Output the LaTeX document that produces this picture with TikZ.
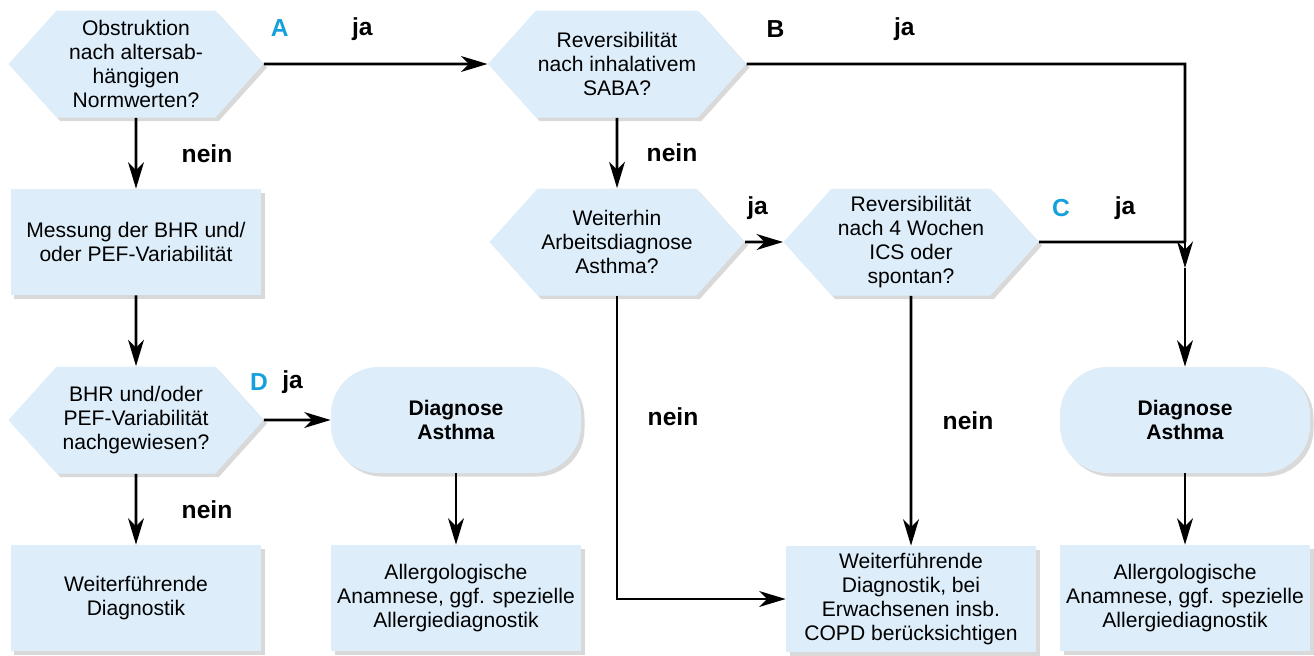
\documentclass[tikz,border=0pt]{standalone}
\usepackage{fontspec}
\setmainfont{Liberation Sans}
\usepackage{tikz}
\usetikzlibrary{positioning,shapes.symbols,shadows,arrows.meta}
\definecolor{boxblue}{RGB}{221,238,250}
\definecolor{tagblue}{RGB}{20,160,220}
\tikzset{
    hexa/.style={
        signal,
        signal from=nowhere,
        signal to=west and east,
        signal pointer angle=96,
        fill=boxblue,
        drop shadow={shadow xshift=0.07cm,shadow yshift=-0.07cm,opacity=0.3},
        align=center,
        minimum width=5.1cm,
        minimum height=2.14cm,
        inner sep=1pt,
        font=\fontsize{12}{13.7}\selectfont
    },
    box/.style={
        rectangle,
        fill=boxblue,
        drop shadow={shadow xshift=0.07cm,shadow yshift=-0.07cm,opacity=0.3},
        align=center,
        minimum width=5cm,
        minimum height=2.12cm,
        font=\fontsize{12}{13.7}\selectfont
    },
    goal/.style={
        box,
        rounded corners=0.95cm,
        font=\fontsize{12}{13.7}\selectfont\bfseries
    },
    arrow/.style={
        ->,
        >={Stealth[length=15pt,width=9pt,inset=4.5pt]},
        line width=1.5pt
    },
    line/.style={
        line width=1.5pt
    },
    answer/.style={
        font=\fontsize{14}{16}\selectfont\bfseries,
        inner sep=0pt
    },
    tag/.style={
        answer,
        text=tagblue
    }
}

\begin{document}
\begin{tikzpicture}[node distance=3.56cm and 6.4cm, on grid]
          \useasboundingbox (-2.72,1.28) rectangle (23.56,-11.82);
          \node (obstr) [hexa] {Obstruktion\\nach altersab-\\hängigen\\Normwerten?};
          \node (messung) [box, below=of obstr] {Messung der BHR und/\\oder PEF-Variabilität};
          \node (bhr) [hexa, below=of messung] {BHR und/oder\\PEF-Variabilität\\nachgewiesen?};
          \node (weiter) [box, below=of bhr] {Weiterführende\\Diagnostik};
          \node (diagA) [goal, right=of bhr] {Diagnose\\Asthma};
          \node (allergA) [box, below=of diagA] {Allergologische\\Anamnese, ggf. spezielle\\Allergiediagnostik};
          \node (saba) [hexa, right=9.62cm of obstr] {Reversibilität\\nach inhalativem\\SABA?};
          \node (arbeit) [hexa, below=of saba] {Weiterhin\\Arbeitsdiagnose\\Asthma?};
          \node (ics) [hexa, right=5.88cm of arbeit] {Reversibilität\\nach 4 Wochen\\ICS oder\\spontan?};
          \node (copd) [box, below=7.14cm of ics] {Weiterführende\\Diagnostik, bei\\Erwachsenen insb.\\COPD berücksichtigen};
          \node (diagB) [goal, below right=3.56cm and 5.48cm of ics] {Diagnose\\Asthma};
          \node (allergB) [box, below=of diagB] {Allergologische\\Anamnese, ggf. spezielle\\Allergiediagnostik};
          \coordinate (eckB) at (diagB |- saba);
          \coordinate (treff) at (diagB |- ics);
          \coordinate (spitze) at ([yshift=-0.52cm]treff);
          % linke Spalte
          \draw [arrow] (obstr) -- node (neinA) [answer, midway, xshift=1.42cm] {nein} (messung);
          \draw [arrow] (messung) -- (bhr);
          \draw [arrow] (bhr) -- node (neinD) [answer, midway, xshift=1.42cm] {nein} (weiter);
          \draw [arrow] (bhr) -- node (tagD) [tag, pos=0, xshift=-0.1cm, yshift=0.76cm] {D} node (jaD) [answer, pos=0.43, yshift=0.76cm] {ja} (diagA);
          \draw [arrow] (diagA) -- (allergA);
          % obere Reihe
          \draw [arrow] (obstr) -- node (tagA) [tag, pos=0.07, yshift=0.72cm] {A} node (jaA) [answer, pos=0.44, yshift=0.7cm] {ja} (saba);
          \draw [arrow] (saba) -- node (neinB) [answer, midway, xshift=1.1cm] {nein} (arbeit);
          \draw [line] (saba) -- node (tagB) [answer, pos=0.066, yshift=0.7cm] {B} node (jaB) [answer, pos=0.36, yshift=0.7cm] {ja} (eckB) -- (treff);
          \draw [line] (ics) -- node (tagC) [tag, pos=0.15, yshift=0.68cm] {C} node (jaC) [answer, pos=0.59, yshift=0.68cm] {ja} (treff);
          \draw [arrow] (treff) -- (spitze);
          \draw [arrow] (spitze) -- (diagB);
          % mittlere Spalten
          \draw [arrow] (arbeit) -- node (jaE) [answer, pos=0.33, yshift=0.68cm] {ja} (ics);
          \draw [arrow] (arbeit) |- node (neinE) [answer, pos=0.2, xshift=1.12cm] {nein} (copd);
          \draw [arrow] (ics) -- node (neinF) [answer, midway, xshift=1.14cm] {nein} (copd);
          \draw [arrow] (diagB) -- (allergB);
        \end{tikzpicture}
\end{document}
